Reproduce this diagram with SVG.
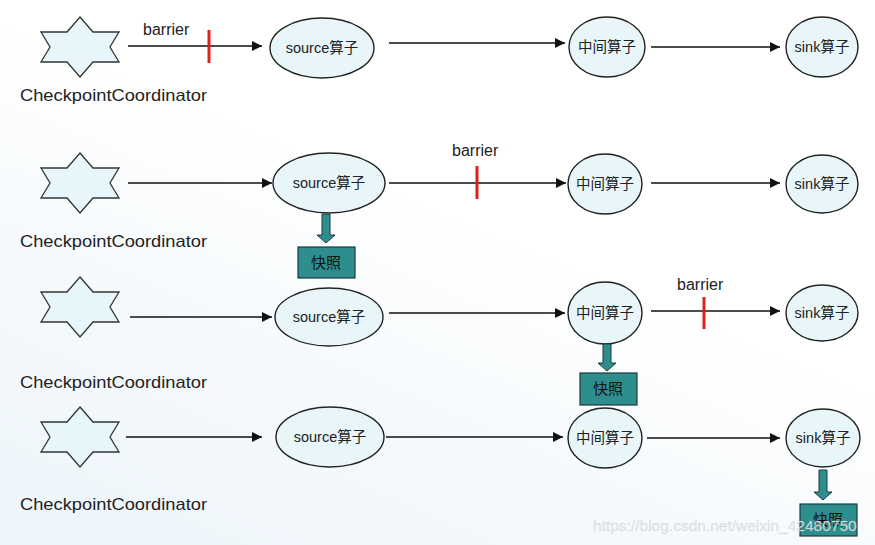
<svg xmlns="http://www.w3.org/2000/svg" width="875" height="545" viewBox="0 0 875 545">
<defs>
<linearGradient id="bg" x1="0" y1="1" x2="0.45" y2="0.35">
<stop offset="0" stop-color="#edf5fa"/>
<stop offset="0.55" stop-color="#f5f9fc"/>
<stop offset="1" stop-color="#ffffff"/>
</linearGradient>
<marker id="ah" viewBox="0 0 10 10" refX="10" refY="5" markerWidth="10" markerHeight="10" markerUnits="userSpaceOnUse" orient="auto">
<path d="M0,0 L10,5 L0,10 Z" fill="#111"/>
</marker>
<path id="star" d="M0,-30 L13,-15 L39,-15 L30,0 L39,15 L13,15 L0,30 L-13,15 L-39,15 L-30,0 L-39,-15 L-13,-15 Z"/>
</defs>
<style>
.star{fill:#e6f6fa;stroke:#333;stroke-width:1.3}
.op{fill:#e8f6fa;stroke:#222;stroke-width:1.4}
.lbl{font-family:"Liberation Sans","Noto Sans CJK SC",sans-serif;font-size:14.5px;fill:#222;text-anchor:middle}
.cc{font-family:"Liberation Sans",Arial,sans-serif;font-size:17px;fill:#222}
.bar{font-family:"Liberation Sans",Arial,sans-serif;font-size:16px;fill:#222}
.red{stroke:#e0201a;stroke-width:3}
.con line{stroke:#111;stroke-width:1.3;marker-end:url(#ah)}
.snap{fill:#2e8e8e;stroke:#1c3a3a;stroke-width:1.2}
.sarrow{fill:#2e8e8e;stroke:#1c3a3a;stroke-width:1}
.stxt{font-family:"Noto Sans CJK SC",sans-serif;font-size:15px;fill:#111;text-anchor:middle}
</style>
<rect width="875" height="545" fill="url(#bg)"/>

<!-- Row 1 -->
<g id="coord1"><use href="#star" x="80" y="47" class="star"/><text class="cc" x="20" y="101" textLength="187" lengthAdjust="spacingAndGlyphs">CheckpointCoordinator</text></g>
<g id="source1"><ellipse class="op" cx="322" cy="48" rx="52" ry="30"/><text class="lbl" x="322" y="53">source算子</text></g>
<g id="mid1"><ellipse class="op" cx="607" cy="47" rx="38" ry="30"/><text class="lbl" x="607" y="52">中间算子</text></g>
<g id="sink1"><ellipse class="op" cx="822" cy="47" rx="36" ry="30"/><text class="lbl" x="822" y="52">sink算子</text></g>

<!-- Row 2 -->
<g id="coord2"><use href="#star" x="80" y="183" class="star"/><text class="cc" x="20" y="247" textLength="187" lengthAdjust="spacingAndGlyphs">CheckpointCoordinator</text></g>
<g id="source2"><ellipse class="op" cx="329" cy="183" rx="56" ry="30"/><text class="lbl" x="329" y="188">source算子</text></g>
<g id="mid2"><ellipse class="op" cx="605" cy="184" rx="37" ry="30"/><text class="lbl" x="605" y="189">中间算子</text></g>
<g id="sink2"><ellipse class="op" cx="822" cy="184" rx="36" ry="29"/><text class="lbl" x="822" y="189">sink算子</text></g>
<g id="snap2"><rect class="snap" x="298" y="247" width="57" height="31"/><text class="stxt" x="326" y="268">快照</text></g>

<!-- Row 3 -->
<g id="coord3"><use href="#star" x="80" y="307" class="star"/><text class="cc" x="20" y="388" textLength="187" lengthAdjust="spacingAndGlyphs">CheckpointCoordinator</text></g>
<g id="source3"><ellipse class="op" cx="329" cy="317" rx="54" ry="29"/><text class="lbl" x="329" y="322">source算子</text></g>
<g id="mid3"><ellipse class="op" cx="605" cy="313" rx="37" ry="31"/><text class="lbl" x="605" y="318">中间算子</text></g>
<g id="sink3"><ellipse class="op" cx="822" cy="313" rx="36" ry="28"/><text class="lbl" x="822" y="318">sink算子</text></g>
<g id="snap3"><rect class="snap" x="580" y="373" width="57" height="32"/><text class="stxt" x="608" y="394">快照</text></g>

<!-- Row 4 -->
<g id="coord4"><use href="#star" x="80" y="437" class="star"/><text class="cc" x="20" y="510" textLength="187" lengthAdjust="spacingAndGlyphs">CheckpointCoordinator</text></g>
<g id="source4"><ellipse class="op" cx="330" cy="437" rx="54" ry="30"/><text class="lbl" x="330" y="442">source算子</text></g>
<g id="mid4"><ellipse class="op" cx="605" cy="438" rx="37" ry="30"/><text class="lbl" x="605" y="443">中间算子</text></g>
<g id="sink4"><ellipse class="op" cx="823" cy="438" rx="37" ry="29"/><text class="lbl" x="823" y="443">sink算子</text></g>
<g id="snap4"><rect class="snap" x="800" y="504" width="57" height="32"/><text class="stxt" x="828" y="525">快照</text></g>

<g id="connectors" class="con">
<line x1="128" y1="46" x2="262" y2="46"/>
<line x1="389" y1="43" x2="565" y2="43"/>
<line x1="651" y1="47" x2="780" y2="47"/>
<line x1="128" y1="183" x2="272" y2="183"/>
<line x1="389" y1="183" x2="566" y2="183"/>
<line x1="651" y1="183" x2="780" y2="183"/>
<line x1="130" y1="317" x2="272" y2="317"/>
<line x1="389" y1="313" x2="565" y2="313"/>
<line x1="651" y1="311" x2="780" y2="311"/>
<line x1="126" y1="437" x2="262" y2="437"/>
<line x1="386" y1="437" x2="563" y2="437"/>
<line x1="647" y1="438" x2="780" y2="438"/>
<path class="sarrow" d="M322,214 L330,214 L330,235 L335,235 L326,243 L317,235 L322,235 Z"/>
<path class="sarrow" d="M603,344 L611,344 L611,363 L616,363 L607,371 L598,363 L603,363 Z"/>
<path class="sarrow" d="M819,470 L827,470 L827,492 L832,492 L823,500 L814,492 L819,492 Z"/>
</g>

<g id="barriers">
<text class="bar" x="143" y="35">barrier</text>
<line class="red" x1="209" y1="30" x2="209" y2="63"/>
<text class="bar" x="452" y="156">barrier</text>
<line class="red" x1="477" y1="166" x2="477" y2="199"/>
<text class="bar" x="677" y="290">barrier</text>
<line class="red" x1="704" y1="297" x2="704" y2="329"/>
</g>

<text x="593" y="531" font-family="Liberation Sans,Arial,sans-serif" font-size="15.5" fill="#e4e4e4" fill-opacity="0.85" stroke="#cfcfcf" stroke-width="0.4" stroke-opacity="0.6">https://blog.csdn.net/weixin_42480750</text>
</svg>
